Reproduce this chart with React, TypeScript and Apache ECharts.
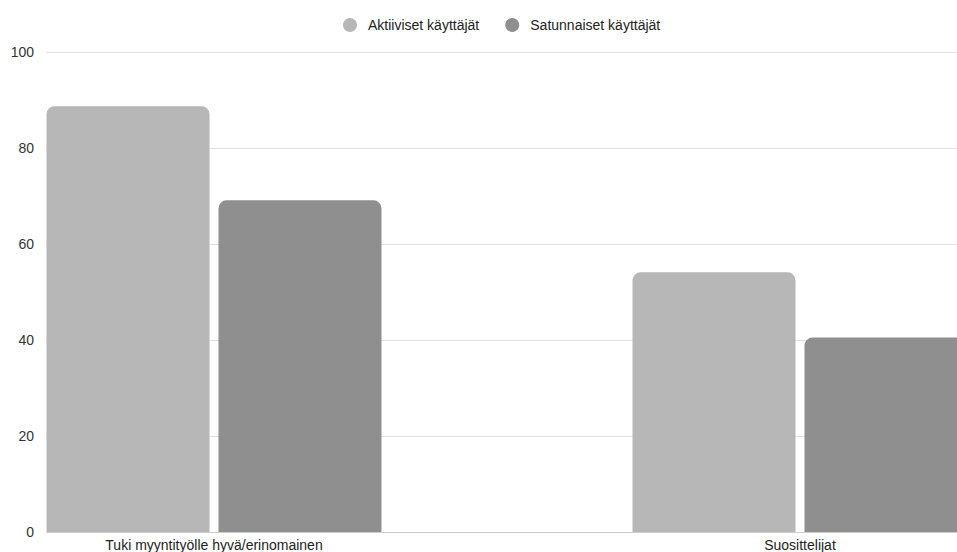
import React, { useEffect, useRef } from "react";
import * as echarts from "echarts";

const categories = ["Tuki myyntityölle hyvä/erinomainen", "Suosittelijat"];
const seriesNames = ["Aktiiviset käyttäjät", "Satunnaiset käyttäjät"];
const activeUsers = [88.7, 54.1];
const occasionalUsers = [69.1, 40.5];
const yTicks = { min: 0, max: 100, interval: 20 };

const COLORS = ["#b7b7b7", "#8f8f8f"];
const FONT = "'Liberation Sans', Arial, sans-serif";

export default function App() {
  const ref = useRef<HTMLDivElement>(null);

  useEffect(() => {
    if (!ref.current) return;
    const chart = echarts.init(ref.current, null, { renderer: "svg" });
    chart.setOption({
      animation: false,
      backgroundColor: "#ffffff",
      textStyle: { fontFamily: FONT },
      legend: {
        data: seriesNames,
        left: 343,
        top: 18,
        padding: 0,
        icon: "circle",
        itemWidth: 14,
        itemHeight: 14,
        itemGap: 26,
        textStyle: {
          fontFamily: FONT,
          fontSize: 14,
          color: "#222222",
          padding: [0, 0, 0, 6],
        },
      },
      grid: [
        // axis frame: value labels and horizontal gridlines
        { left: 46, right: 0, top: 52, bottom: 20, containLabel: false, outerBoundsMode: "none" },
        // bar layout: wide bands so the groups land under their labels
        { left: -79, width: 1172, top: 52, bottom: 20, containLabel: false, outerBoundsMode: "none" },
      ],
      xAxis: [
        {
          gridIndex: 0,
          type: "value",
          min: 0,
          max: 1,
          axisLine: { show: false },
          axisTick: { show: false },
          axisLabel: { show: false },
          splitLine: { show: false },
        },
        {
          gridIndex: 1,
          type: "category",
          data: categories,
          axisLine: { show: false },
          axisTick: { show: false },
          axisLabel: {
            fontFamily: FONT,
            fontSize: 14,
            color: "#222222",
            margin: 6,
            interval: 0,
          },
        },
      ],
      yAxis: [
        {
          gridIndex: 0,
          type: "value",
          min: yTicks.min,
          max: yTicks.max,
          interval: yTicks.interval,
          axisLine: { show: false },
          axisTick: { show: false },
          axisLabel: {
            fontFamily: FONT,
            fontSize: 14,
            color: "#333333",
            margin: 12,
          },
          splitLine: {
            lineStyle: {
              color: ["#cccccc", "#e0e0e0", "#e0e0e0", "#e0e0e0", "#e0e0e0", "#e0e0e0"],
              width: 1,
            },
          },
        },
        {
          gridIndex: 1,
          type: "value",
          min: yTicks.min,
          max: yTicks.max,
          interval: yTicks.interval,
          show: false,
          splitLine: { show: false },
        },
      ],
      series: [
        {
          name: seriesNames[0],
          type: "bar",
          xAxisIndex: 1,
          yAxisIndex: 1,
          data: activeUsers,
          barWidth: 163,
          barGap: "5.5%",
          itemStyle: { color: COLORS[0], borderRadius: [8, 8, 0, 0] },
        },
        {
          name: seriesNames[1],
          type: "bar",
          xAxisIndex: 1,
          yAxisIndex: 1,
          data: occasionalUsers,
          barWidth: 163,
          barGap: "5.5%",
          itemStyle: { color: COLORS[1], borderRadius: [8, 8, 0, 0] },
        },
      ],
    });
    return () => chart.dispose();
  }, []);

  return <div ref={ref} style={{ width: 957, height: 552, position: "absolute", left: 0, top: 0 }} />;
}
